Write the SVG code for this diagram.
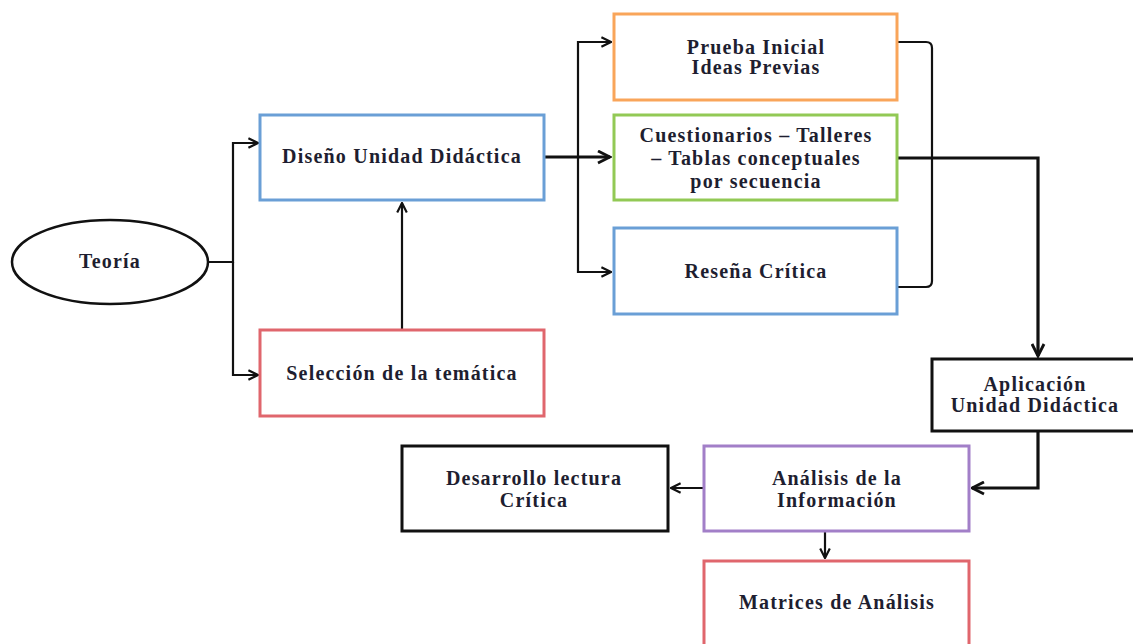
<svg xmlns="http://www.w3.org/2000/svg" width="1133" height="644" viewBox="0 0 1133 644">
<style>
.box{fill:#fff;stroke-width:3}
.blue{stroke:#6a9fd6}
.red{stroke:#e0666d}
.orange{stroke:#f9a55a}
.green{stroke:#92c955}
.purple{stroke:#a27fc8}
.black{stroke:#111}
text{font-family:"Liberation Serif","Times New Roman",serif;font-size:20px;font-weight:bold;fill:#1e1e30;text-anchor:middle;letter-spacing:1.2px}
.c{fill:none;stroke:#111;stroke-width:2.2}
.ct{fill:none;stroke:#111;stroke-width:3.2}
</style>
<defs>
<marker id="a" viewBox="0 0 10 10" refX="9" refY="5" markerWidth="12" markerHeight="12" markerUnits="userSpaceOnUse" orient="auto"><path d="M1,1 L9,5 L1,9" fill="none" stroke="#111" stroke-width="1.8"/></marker>
<marker id="ab" viewBox="0 0 10 10" refX="9" refY="5" markerWidth="15" markerHeight="15" markerUnits="userSpaceOnUse" orient="auto"><path d="M1,1 L9,5 L1,9" fill="none" stroke="#111" stroke-width="1.9"/></marker>
</defs>
<rect width="1133" height="644" fill="#fff"/>
<g id="connectors">
<path class="c" d="M208,262 H233 V143 H258" marker-end="url(#a)"/>
<path class="c" d="M233,262 V375 H258" marker-end="url(#a)"/>
<path class="c" d="M402,330 V203" marker-end="url(#a)"/>
<path class="ct" d="M544,157 H610" marker-end="url(#ab)"/>
<path class="c" d="M578,157 V42 H611" marker-end="url(#a)"/>
<path class="c" d="M578,157 V272 H611" marker-end="url(#a)"/>
<path class="c" d="M897,42 H926 Q932,42 932,48 V281 Q932,287 926,287 H897"/>
<path class="ct" d="M897,158 H1038 V356" marker-end="url(#ab)"/>
<path class="ct" d="M1038,431 V488 H972" marker-end="url(#ab)"/>
<path class="c" d="M704,488 H671" marker-end="url(#a)"/>
<path class="c" d="M825,531 V558" marker-end="url(#a)"/>
</g>
<g id="teoria">
<ellipse cx="110" cy="262" rx="98" ry="42" fill="#fff" stroke="#111" stroke-width="2.5"/>
<text x="110" y="268">Teoría</text>
</g>
<g id="diseno">
<rect class="box blue" x="260" y="115" width="284" height="85"/>
<text x="402" y="163">Diseño Unidad Didáctica</text>
</g>
<g id="seleccion">
<rect class="box red" x="260" y="330" width="284" height="86"/>
<text x="402" y="380">Selección de la temática</text>
</g>
<g id="prueba">
<rect class="box orange" x="614" y="14" width="283" height="86"/>
<text x="756" y="54">Prueba Inicial</text>
<text x="756" y="74">Ideas Previas</text>
</g>
<g id="cuestionarios">
<rect class="box green" x="614" y="115" width="283" height="85"/>
<text x="756" y="142">Cuestionarios – Talleres</text>
<text x="756" y="165">– Tablas conceptuales</text>
<text x="756" y="188">por secuencia</text>
</g>
<g id="resena">
<rect class="box blue" x="614" y="228" width="283" height="86"/>
<text x="756" y="278">Reseña Crítica</text>
</g>
<g id="aplicacion">
<rect class="box black" x="932" y="359" width="210" height="72"/>
<text x="1035" y="391">Aplicación</text>
<text x="1035" y="412">Unidad Didáctica</text>
</g>
<g id="analisis">
<rect class="box purple" x="704" y="446" width="265" height="85"/>
<text x="837" y="485">Análisis de la</text>
<text x="837" y="507">Información</text>
</g>
<g id="desarrollo">
<rect class="box black" x="402" y="446" width="266" height="85"/>
<text x="534" y="485">Desarrollo lectura</text>
<text x="534" y="507">Crítica</text>
</g>
<g id="matrices">
<rect class="box red" x="704" y="561" width="265" height="100"/>
<text x="837" y="609">Matrices de Análisis</text>
</g>
</svg>
